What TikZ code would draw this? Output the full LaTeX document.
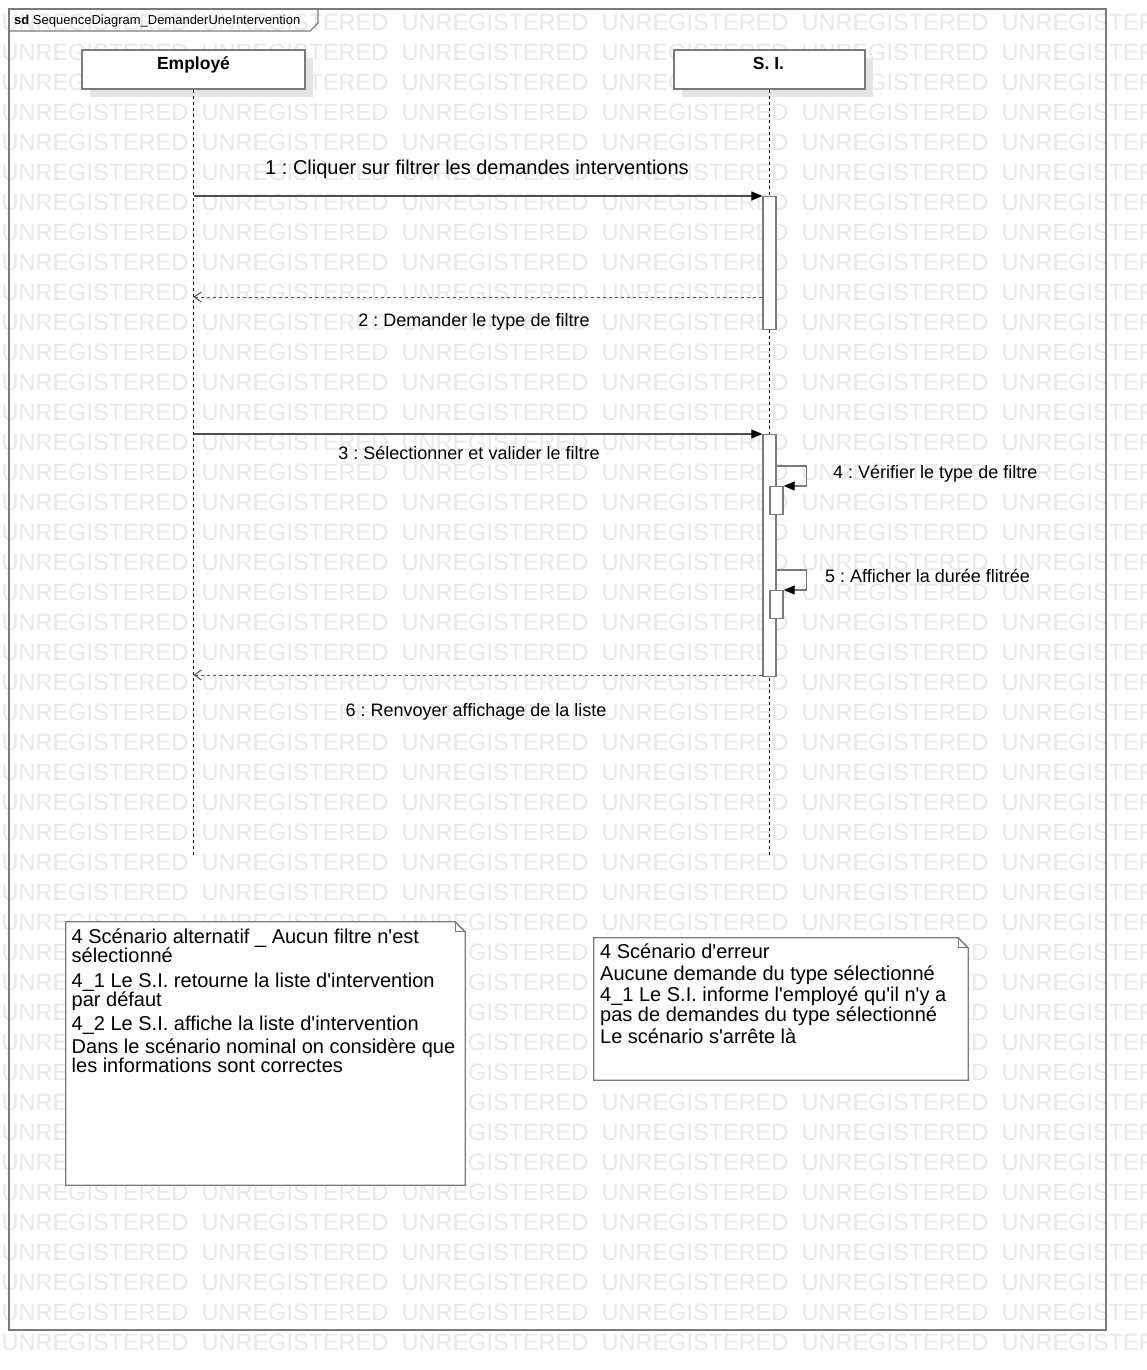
\documentclass[tikz,border=0pt]{standalone}
\usepackage{fontspec}
\setmainfont{Liberation Sans}[Ligatures=TeXOff]
\usetikzlibrary{arrows.meta,shadows}
\definecolor{wmcol}{HTML}{E8E8E8}
\definecolor{lc}{HTML}{7A7A7A}
\definecolor{ml}{HTML}{505050}
\definecolor{shc}{HTML}{E4E4E4}
\frenchspacing
\begin{document}
\begin{tikzpicture}[x=1pt,y=-1pt,
  wm/.style={text=wmcol,font=\fontsize{23.5}{24}\selectfont,inner sep=0},
  head/.style={draw=lc,line width=1.6pt,fill=white,minimum width=#1,minimum height=39pt,inner sep=0,
    drop shadow={shadow xshift=8pt,shadow yshift=-8pt,fill=shc,opacity=1}},
  headtxt/.style={font=\fontsize{17.5}{18}\selectfont\bfseries,inner sep=0,anchor=base},
  life/.style={draw=black,line width=0.9pt,dash pattern=on 3pt off 3pt},
  actbar/.style={draw=lc,line width=1.4pt,fill=white,minimum width=13pt,inner sep=0,anchor=north},
  sync/.style={draw=ml,line width=1.2pt,-{Triangle[length=11pt,width=9pt,color=black,fill=black]}},
  reply/.style={draw=ml,line width=1pt,dash pattern=on 3pt off 3pt,-{Straight Barb[length=7pt,width=10pt]}},
  selfm/.style={draw=lc,line width=1.3pt,-{Triangle[length=11pt,width=9pt,color=black,fill=black]}},
  mlab/.style={font=\fontsize{18}{20}\selectfont,inner sep=0},
  notebox/.style={inner sep=0},
  noteshape/.style={draw=lc,line width=1.3pt,fill=white},
  notetxt/.style={font=\fontsize{20}{20}\selectfont,inner sep=0,anchor=base west}
]
\useasboundingbox (0,0) rectangle (1146,1370);
\fill[white] (0,0) rectangle (1146,1370);
% watermark
\foreach \r in {0,...,44}{
  \foreach \c in {0,...,5}{
    \node[wm] (wm-\r-\c) at (95+200*\c,22+30*\r) {UNREGISTERED};
  }
}
% frame
\draw[lc,line width=1.4pt] (9,9) rectangle (1106,1330);
\draw[lc,line width=1.2pt] (9,31) -- (310,31) -- (318,23) -- (318,9);
\node[anchor=base west,inner sep=0,font=\fontsize{13}{14}\selectfont] (title) at (14,24.5)
  {\textbf{sd}\ SequenceDiagram\_DemanderUneIntervention};
% lifeline heads
\node[head=223pt] (empH) at (193.5,69.5) {};
\node[headtxt] (empT) at (193.5,70) {Employé};
\node[head=191pt] (siH) at (769.5,69.5) {};
\node[headtxt] (siT) at (768.5,70) {S. I.};
% y levels
\coordinate (yend) at (0,855);
\coordinate (y2) at (0,297);
\coordinate (y4) at (0,466);
\coordinate (y5) at (0,570);
\coordinate (y6) at (0,675);
% lifelines
\draw[life] (empH.south) -- (empH.south |- yend);
\draw[life] (siH.south) -- (siH.south |- yend);
% activation bars
\node[actbar,minimum height=133pt] (act1) at (769.5,196) {};
\node[actbar,minimum height=242pt] (act2) at (769.5,434) {};
\node[actbar,minimum height=28pt] (n4) at (776.5,486) {};
\node[actbar,minimum height=28pt] (n5) at (776.5,590) {};
% messages
\draw[sync] (empH.south |- act1.north) -- (act1.north west);
\node[mlab,anchor=base] (l1) at (477,174) {\fontsize{20}{20}\selectfont 1 : Cliquer sur filtrer les demandes interventions};
\draw[reply] (act1.west |- y2) -- (empH.south |- y2);
\node[mlab,anchor=base] (l2) at (474,326) {2 : Demander le type de filtre};
\draw[sync] (empH.south |- act2.north) -- (act2.north west);
\node[mlab,anchor=base] (l3) at (469,459) {3 : Sélectionner et valider le filtre};
\draw[selfm] (act2.east |- y4) -- ++(30,0) |- (n4.north east);
\node[mlab,anchor=base west] (l4) at (833,478) {4 : Vérifier le type de filtre};
\draw[selfm] (act2.east |- y5) -- ++(30,0) |- (n5.north east);
\node[mlab,anchor=base west] (l5) at (825,582) {5 : Afficher la durée flitrée};
\draw[reply] (act2.west |- y6) -- (empH.south |- y6);
\node[mlab,anchor=base] (l6) at (476,716) {6 : Renvoyer affichage de la liste};
% note 1
\node[notebox,minimum width=399pt,minimum height=263pt] (note1) at (265.5,1053.5) {};
\draw[noteshape] (note1.north west) -- ([xshift=-10pt]note1.north east) -- ([yshift=-10pt]note1.north east)
  -- (note1.south east) -- (note1.south west) -- cycle;
\draw[lc,line width=1pt] ([xshift=-10pt]note1.north east) -- ++(0,10) -- ++(10,0);
\foreach \t/\yy [count=\i] in {
  4 Scénario alternatif \_ Aucun filtre n'est/943,
  sélectionné/962,
  4\_1 Le S.I. retourne la liste d'intervention/987,
  par défaut/1006,
  4\_2 Le S.I. affiche la liste d'intervention/1030,
  Dans le scénario nominal on considère que/1053,
  les informations sont correctes/1072}{
  \node[notetxt] (n1t\i) at (71.5,\yy) {\t};
}
% note 2
\node[notebox,minimum width=374pt,minimum height=142pt] (note2) at (781,1009) {};
\draw[noteshape] (note2.north west) -- ([xshift=-10pt]note2.north east) -- ([yshift=-10pt]note2.north east)
  -- (note2.south east) -- (note2.south west) -- cycle;
\draw[lc,line width=1pt] ([xshift=-10pt]note2.north east) -- ++(0,10) -- ++(10,0);
\foreach \t/\yy [count=\i] in {
  4 Scénario d'erreur/958,
  Aucune demande du type sélectionné/980,
  4\_1 Le S.I. informe l'employé qu'il n'y a/1001.5,
  pas de demandes du type sélectionné/1021.5,
  Le scénario s'arrête là/1043}{
  \node[notetxt] (n2t\i) at (600,\yy) {\t};
}
\end{tikzpicture}
\end{document}
